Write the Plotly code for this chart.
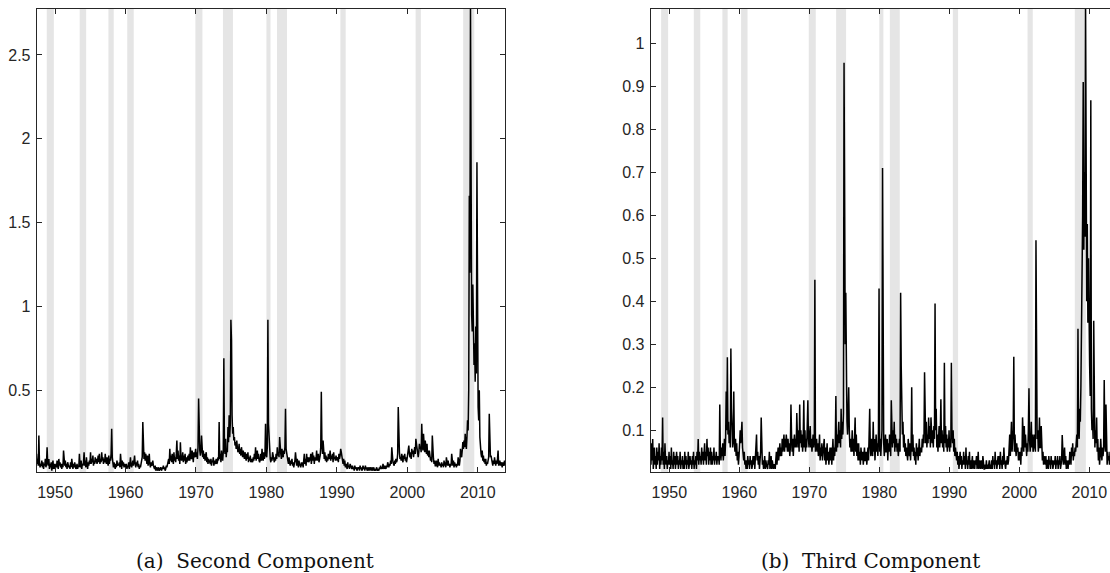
import plotly.graph_objects as go

# ---------------- data (monthly) ----------------
# series start in April 1947
start_year, start_month = 1947, 3
end_year = 2013

second_1940s = [0.08, 0.12, 0.06, 0.09, 0.05, 0.23, 0.07, 0.04, 0.06,
                0.05, 0.08, 0.04, 0.07, 0.03, 0.06, 0.05, 0.09, 0.04, 0.06, 0.16, 0.07,
                0.05, 0.09, 0.03, 0.06, 0.04, 0.07, 0.02, 0.05, 0.08, 0.03, 0.06, 0.04]
second_1950s = [0.03, 0.06, 0.04, 0.08, 0.05, 0.03, 0.09, 0.05, 0.07, 0.04, 0.06, 0.03,
                0.06, 0.04, 0.14, 0.07, 0.05, 0.08, 0.04, 0.06, 0.03, 0.07, 0.05, 0.04,
                0.05, 0.03, 0.07, 0.04, 0.09, 0.05, 0.03, 0.06, 0.04, 0.07, 0.05, 0.03,
                0.04, 0.06, 0.03, 0.05, 0.04, 0.12, 0.06, 0.04, 0.08, 0.03, 0.06, 0.05,
                0.07, 0.13, 0.05, 0.08, 0.04, 0.10, 0.06, 0.03, 0.07, 0.05, 0.08, 0.06,
                0.13, 0.06, 0.09, 0.07, 0.11, 0.05, 0.08, 0.06, 0.10, 0.07, 0.09, 0.06,
                0.08, 0.11, 0.07, 0.12, 0.06, 0.09, 0.07, 0.13, 0.08, 0.10, 0.06, 0.09,
                0.07, 0.12, 0.08, 0.06, 0.10, 0.07, 0.05, 0.11, 0.06, 0.09, 0.08, 0.12,
                0.27, 0.10, 0.06, 0.04, 0.07, 0.05, 0.03, 0.06, 0.04, 0.08, 0.05, 0.06,
                0.05, 0.07, 0.04, 0.12, 0.06, 0.03, 0.08, 0.05, 0.07, 0.04, 0.06, 0.05]
second_1960s = [0.04, 0.06, 0.03, 0.05, 0.04, 0.07, 0.03, 0.06, 0.10, 0.05, 0.04, 0.06,
                0.08, 0.05, 0.07, 0.11, 0.06, 0.04, 0.07, 0.05, 0.08, 0.04, 0.06, 0.03,
                0.05, 0.04, 0.06, 0.08, 0.10, 0.31, 0.16, 0.09, 0.13, 0.08, 0.12, 0.07,
                0.06, 0.11, 0.05, 0.07, 0.12, 0.06, 0.04, 0.07, 0.05, 0.06, 0.08, 0.05,
                0.04, 0.03, 0.05, 0.02, 0.04, 0.03, 0.02, 0.04, 0.03, 0.02, 0.03, 0.04,
                0.03, 0.02, 0.04, 0.03, 0.05, 0.03, 0.04, 0.02, 0.03, 0.05, 0.04, 0.06,
                0.07, 0.09, 0.06, 0.15, 0.08, 0.11, 0.07, 0.12, 0.09, 0.06, 0.13, 0.08,
                0.10, 0.07, 0.12, 0.20, 0.09, 0.14, 0.08, 0.11, 0.06, 0.19, 0.10, 0.08,
                0.09, 0.13, 0.07, 0.11, 0.08, 0.12, 0.06, 0.10, 0.07, 0.09, 0.11, 0.08,
                0.12, 0.08, 0.16, 0.10, 0.09, 0.14, 0.11, 0.07, 0.13, 0.10, 0.12, 0.15]
second_1970s = [0.10, 0.13, 0.09, 0.16, 0.45, 0.20, 0.14, 0.11, 0.13, 0.23, 0.12, 0.10,
                0.14, 0.09, 0.12, 0.08, 0.11, 0.13, 0.07, 0.10, 0.06, 0.09, 0.08, 0.07,
                0.06, 0.09, 0.05, 0.08, 0.07, 0.10, 0.05, 0.08, 0.06, 0.07, 0.09, 0.06,
                0.07, 0.10, 0.08, 0.31, 0.09, 0.12, 0.07, 0.14, 0.10, 0.08, 0.13, 0.69,
                0.16, 0.12, 0.21, 0.10, 0.15, 0.13, 0.28, 0.19, 0.35, 0.22, 0.30, 0.92,
                0.80, 0.35, 0.24, 0.28, 0.20, 0.22, 0.17, 0.19, 0.15, 0.20, 0.16, 0.13,
                0.14, 0.18, 0.12, 0.15, 0.11, 0.16, 0.13, 0.10, 0.14, 0.12, 0.09, 0.13,
                0.10, 0.08, 0.12, 0.09, 0.13, 0.07, 0.10, 0.08, 0.11, 0.07, 0.09, 0.08,
                0.07, 0.10, 0.08, 0.12, 0.09, 0.16, 0.08, 0.11, 0.14, 0.09, 0.12, 0.08,
                0.07, 0.09, 0.12, 0.08, 0.15, 0.10, 0.08, 0.13, 0.09, 0.11, 0.30, 0.12]
second_1980s = [0.10, 0.16, 0.92, 0.30, 0.18, 0.12, 0.09, 0.07, 0.10, 0.08, 0.13, 0.11,
                0.09, 0.07, 0.10, 0.08, 0.12, 0.09, 0.16, 0.11, 0.13, 0.10, 0.22, 0.14,
                0.12, 0.09, 0.15, 0.11, 0.10, 0.14, 0.12, 0.16, 0.39, 0.15, 0.11, 0.09,
                0.08, 0.06, 0.10, 0.07, 0.05, 0.08, 0.06, 0.09, 0.05, 0.07, 0.04, 0.06,
                0.08, 0.13, 0.06, 0.05, 0.09, 0.07, 0.04, 0.08, 0.05, 0.06, 0.04, 0.07,
                0.05, 0.07, 0.04, 0.08, 0.12, 0.06, 0.09, 0.05, 0.12, 0.07, 0.10, 0.08,
                0.07, 0.10, 0.08, 0.12, 0.06, 0.09, 0.13, 0.08, 0.11, 0.06, 0.10, 0.08,
                0.09, 0.14, 0.08, 0.10, 0.12, 0.07, 0.09, 0.11, 0.16, 0.49, 0.18, 0.12,
                0.20, 0.11, 0.09, 0.13, 0.08, 0.11, 0.07, 0.10, 0.08, 0.12, 0.09, 0.10,
                0.14, 0.08, 0.11, 0.09, 0.12, 0.07, 0.13, 0.09, 0.10, 0.08, 0.11, 0.09]
second_1990s = [0.08, 0.10, 0.07, 0.12, 0.09, 0.11, 0.15, 0.13, 0.10, 0.08, 0.06, 0.09,
                0.05, 0.08, 0.04, 0.06, 0.05, 0.03, 0.07, 0.04, 0.05, 0.03, 0.06, 0.04,
                0.04, 0.03, 0.05, 0.03, 0.04, 0.02, 0.05, 0.03, 0.04, 0.03, 0.02, 0.04,
                0.03, 0.04, 0.02, 0.05, 0.03, 0.04, 0.02, 0.03, 0.05, 0.03, 0.04, 0.02,
                0.05, 0.03, 0.04, 0.02, 0.03, 0.04, 0.02, 0.03, 0.04, 0.03, 0.02, 0.04,
                0.03, 0.02, 0.04, 0.03, 0.02, 0.03, 0.02, 0.04, 0.03, 0.02, 0.03, 0.02,
                0.04, 0.03, 0.05, 0.03, 0.04, 0.03, 0.06, 0.04, 0.03, 0.05, 0.04, 0.03,
                0.05, 0.04, 0.07, 0.05, 0.04, 0.06, 0.05, 0.08, 0.06, 0.16, 0.09, 0.07,
                0.06, 0.05, 0.08, 0.06, 0.09, 0.07, 0.08, 0.12, 0.40, 0.18, 0.13, 0.09,
                0.10, 0.08, 0.12, 0.09, 0.07, 0.11, 0.09, 0.12, 0.08, 0.10, 0.07, 0.09]
second_2000s = [0.11, 0.14, 0.17, 0.12, 0.10, 0.13, 0.09, 0.15, 0.12, 0.14, 0.10, 0.13,
                0.16, 0.12, 0.21, 0.18, 0.14, 0.12, 0.10, 0.13, 0.18, 0.15, 0.16, 0.13,
                0.30, 0.19, 0.14, 0.24, 0.17, 0.13, 0.20, 0.16, 0.12, 0.18, 0.11, 0.14,
                0.10, 0.14, 0.12, 0.08, 0.10, 0.07, 0.23, 0.12, 0.09, 0.06, 0.08, 0.05,
                0.05, 0.08, 0.06, 0.04, 0.09, 0.05, 0.07, 0.05, 0.06, 0.04, 0.07, 0.05,
                0.06, 0.04, 0.08, 0.05, 0.07, 0.04, 0.10, 0.06, 0.05, 0.08, 0.05, 0.06,
                0.04, 0.06, 0.05, 0.12, 0.07, 0.05, 0.08, 0.04, 0.07, 0.05, 0.06, 0.04,
                0.06, 0.05, 0.10, 0.07, 0.05, 0.08, 0.15, 0.12, 0.10, 0.14, 0.19, 0.15,
                0.20, 0.16, 0.24, 0.18, 0.15, 0.22, 0.32, 0.26, 0.50, 1.66, 1.20, 2.80,
                1.30, 0.95, 0.85, 1.13, 0.90, 0.65, 0.78, 0.55, 0.88, 0.60, 1.86, 0.70]
second_2010s = [0.40, 0.32, 0.50, 0.22, 0.15, 0.12, 0.10, 0.14, 0.08, 0.11, 0.07, 0.09,
                0.06, 0.09, 0.05, 0.07, 0.06, 0.08, 0.10, 0.36, 0.14, 0.10, 0.11, 0.07,
                0.07, 0.05, 0.08, 0.06, 0.10, 0.07, 0.05, 0.08, 0.06, 0.09, 0.14, 0.05,
                0.06, 0.08, 0.05, 0.07, 0.06, 0.04, 0.07, 0.05, 0.06, 0.08, 0.05, 0.06]

third_1940s = [0.05, 0.02, 0.07, 0.03, 0.08, 0.01, 0.04, 0.06, 0.02,
               0.04, 0.01, 0.06, 0.02, 0.05, 0.03, 0.07, 0.01, 0.04, 0.02, 0.06, 0.03,
               0.13, 0.02, 0.05, 0.01, 0.07, 0.03, 0.02, 0.04, 0.01, 0.03, 0.02, 0.05]
third_1950s = [0.02, 0.04, 0.01, 0.06, 0.02, 0.03, 0.01, 0.05, 0.02, 0.04, 0.01, 0.03,
               0.05, 0.02, 0.04, 0.01, 0.03, 0.02, 0.05, 0.01, 0.03, 0.02, 0.04, 0.01,
               0.03, 0.01, 0.05, 0.02, 0.04, 0.01, 0.03, 0.02, 0.05, 0.01, 0.02, 0.04,
               0.02, 0.03, 0.01, 0.04, 0.02, 0.05, 0.01, 0.03, 0.02, 0.04, 0.01, 0.05,
               0.03, 0.08, 0.02, 0.05, 0.03, 0.04, 0.02, 0.06, 0.03, 0.05, 0.02, 0.04,
               0.07, 0.03, 0.05, 0.02, 0.08, 0.04, 0.06, 0.02, 0.05, 0.03, 0.06, 0.02,
               0.05, 0.02, 0.04, 0.03, 0.06, 0.02, 0.04, 0.03, 0.05, 0.02, 0.04, 0.03,
               0.04, 0.02, 0.16, 0.05, 0.03, 0.06, 0.04, 0.07, 0.03, 0.05, 0.08, 0.04,
               0.08, 0.19, 0.10, 0.27, 0.09, 0.12, 0.07, 0.10, 0.06, 0.29, 0.15, 0.10,
               0.06, 0.08, 0.19, 0.07, 0.05, 0.08, 0.04, 0.07, 0.03, 0.05, 0.02, 0.04]
third_1960s = [0.06, 0.10, 0.07, 0.09, 0.12, 0.06, 0.04, 0.03, 0.05, 0.02, 0.03, 0.01,
               0.03, 0.01, 0.04, 0.02, 0.03, 0.01, 0.04, 0.02, 0.03, 0.01, 0.02, 0.04,
               0.02, 0.04, 0.01, 0.03, 0.05, 0.09, 0.03, 0.05, 0.02, 0.04, 0.01, 0.03,
               0.05, 0.13, 0.04, 0.02, 0.03, 0.01, 0.02, 0.04, 0.01, 0.03, 0.02, 0.01,
               0.01, 0.03, 0.02, 0.05, 0.01, 0.02, 0.04, 0.01, 0.03, 0.02, 0.01, 0.02,
               0.02, 0.01, 0.03, 0.05, 0.02, 0.04, 0.06, 0.03, 0.05, 0.07, 0.04, 0.06,
               0.04, 0.08, 0.05, 0.07, 0.09, 0.05, 0.08, 0.06, 0.09, 0.07, 0.05, 0.08,
               0.05, 0.07, 0.04, 0.06, 0.16, 0.09, 0.05, 0.08, 0.04, 0.07, 0.09, 0.06,
               0.08, 0.06, 0.14, 0.09, 0.06, 0.10, 0.05, 0.16, 0.07, 0.10, 0.06, 0.09,
               0.05, 0.08, 0.17, 0.06, 0.10, 0.05, 0.08, 0.06, 0.11, 0.17, 0.08, 0.06]
third_1970s = [0.09, 0.11, 0.06, 0.08, 0.05, 0.07, 0.09, 0.06, 0.08, 0.45, 0.05, 0.07,
               0.08, 0.05, 0.07, 0.04, 0.06, 0.09, 0.03, 0.06, 0.04, 0.07, 0.03, 0.05,
               0.05, 0.08, 0.03, 0.06, 0.02, 0.04, 0.07, 0.03, 0.05, 0.02, 0.04, 0.06,
               0.03, 0.06, 0.02, 0.05, 0.08, 0.03, 0.06, 0.04, 0.07, 0.18, 0.05, 0.09,
               0.06, 0.09, 0.12, 0.07, 0.10, 0.06, 0.15, 0.08, 0.12, 0.09, 0.14, 0.955,
               0.70, 0.30, 0.42, 0.18, 0.12, 0.09, 0.13, 0.20, 0.10, 0.06, 0.08, 0.05,
               0.06, 0.10, 0.05, 0.08, 0.04, 0.07, 0.13, 0.05, 0.09, 0.04, 0.07, 0.03,
               0.07, 0.03, 0.05, 0.02, 0.06, 0.04, 0.03, 0.05, 0.02, 0.04, 0.06, 0.03,
               0.03, 0.05, 0.02, 0.04, 0.06, 0.03, 0.07, 0.15, 0.06, 0.04, 0.08, 0.05,
               0.04, 0.12, 0.05, 0.08, 0.03, 0.06, 0.09, 0.05, 0.07, 0.04, 0.10, 0.43]
third_1980s = [0.05, 0.08, 0.04, 0.06, 0.10, 0.71, 0.12, 0.07, 0.04, 0.06, 0.09, 0.05,
               0.05, 0.08, 0.03, 0.07, 0.05, 0.09, 0.06, 0.04, 0.17, 0.08, 0.06, 0.10,
               0.07, 0.12, 0.05, 0.09, 0.06, 0.08, 0.05, 0.07, 0.04, 0.06, 0.08, 0.05,
               0.42, 0.25, 0.16, 0.09, 0.12, 0.06, 0.09, 0.05, 0.07, 0.04, 0.06, 0.03,
               0.03, 0.08, 0.05, 0.04, 0.07, 0.03, 0.06, 0.20, 0.05, 0.09, 0.04, 0.06,
               0.03, 0.05, 0.02, 0.07, 0.04, 0.06, 0.03, 0.05, 0.08, 0.04, 0.06, 0.05,
               0.05, 0.08, 0.06, 0.09, 0.07, 0.235, 0.10, 0.07, 0.12, 0.06, 0.09, 0.07,
               0.13, 0.08, 0.11, 0.06, 0.13, 0.09, 0.07, 0.10, 0.06, 0.11, 0.08, 0.395,
               0.10, 0.15, 0.06, 0.09, 0.05, 0.08, 0.11, 0.06, 0.09, 0.172, 0.07, 0.10,
               0.06, 0.09, 0.05, 0.257, 0.07, 0.11, 0.06, 0.09, 0.05, 0.08, 0.06, 0.10]
third_1990s = [0.05, 0.08, 0.06, 0.257, 0.10, 0.07, 0.10, 0.05, 0.08, 0.04, 0.06, 0.03,
               0.03, 0.05, 0.02, 0.04, 0.01, 0.03, 0.05, 0.02, 0.04, 0.01, 0.03, 0.02,
               0.05, 0.02, 0.04, 0.01, 0.06, 0.02, 0.03, 0.01, 0.04, 0.02, 0.05, 0.01,
               0.03, 0.01, 0.02, 0.04, 0.01, 0.03, 0.02, 0.01, 0.03, 0.02, 0.04, 0.01,
               0.02, 0.05, 0.01, 0.03, 0.02, 0.01, 0.03, 0.02, 0.01, 0.04, 0.02, 0.01,
               0.01, 0.02, 0.01, 0.03, 0.01, 0.02, 0.01, 0.02, 0.03, 0.01, 0.02, 0.01,
               0.03, 0.01, 0.04, 0.02, 0.03, 0.01, 0.05, 0.02, 0.03, 0.01, 0.02, 0.04,
               0.02, 0.04, 0.01, 0.05, 0.02, 0.03, 0.01, 0.04, 0.02, 0.06, 0.03, 0.02,
               0.01, 0.03, 0.02, 0.04, 0.02, 0.03, 0.05, 0.09, 0.04, 0.07, 0.12, 0.05,
               0.08, 0.10, 0.271, 0.05, 0.09, 0.06, 0.04, 0.07, 0.05, 0.06, 0.03, 0.05]
third_2000s = [0.03, 0.05, 0.02, 0.06, 0.04, 0.13, 0.07, 0.05, 0.11, 0.06, 0.09, 0.04,
               0.04, 0.07, 0.05, 0.10, 0.198, 0.08, 0.05, 0.07, 0.12, 0.06, 0.09, 0.05,
               0.06, 0.09, 0.07, 0.05, 0.542, 0.13, 0.08, 0.10, 0.05, 0.07, 0.13, 0.06,
               0.06, 0.11, 0.04, 0.03, 0.05, 0.02, 0.04, 0.03, 0.02, 0.04, 0.01, 0.03,
               0.03, 0.01, 0.04, 0.02, 0.03, 0.01, 0.04, 0.02, 0.03, 0.01, 0.02, 0.03,
               0.02, 0.04, 0.01, 0.03, 0.02, 0.04, 0.01, 0.03, 0.02, 0.04, 0.01, 0.02,
               0.03, 0.089, 0.05, 0.02, 0.04, 0.06, 0.02, 0.04, 0.01, 0.03, 0.02, 0.01,
               0.03, 0.02, 0.05, 0.04, 0.02, 0.06, 0.04, 0.07, 0.03, 0.05, 0.04, 0.06,
               0.05, 0.07, 0.09, 0.06, 0.336, 0.10, 0.08, 0.15, 0.12, 0.20, 0.30, 0.45,
               0.60, 0.91, 0.52, 0.70, 0.55, 1.10, 0.65, 0.40, 0.58, 0.35, 0.50, 0.30]
third_2010s = [0.25, 0.18, 0.868, 0.15, 0.10, 0.12, 0.08, 0.355, 0.13, 0.06, 0.10, 0.07,
               0.13, 0.05, 0.08, 0.03, 0.06, 0.02, 0.04, 0.08, 0.05, 0.03, 0.06, 0.04,
               0.06, 0.217, 0.08, 0.05, 0.16, 0.04, 0.02, 0.05, 0.03, 0.04, 0.02, 0.05,
               0.04, 0.02, 0.05, 0.03, 0.02, 0.04, 0.03, 0.05, 0.02, 0.04, 0.03, 0.05]

# NBER recessions (start, end) in decimal years
recession_start = [1948.83, 1953.50, 1957.58, 1960.25, 1969.92, 1973.83,
                   1980.00, 1981.50, 1990.50, 2001.17, 2007.92]
recession_end = [1949.83, 1954.42, 1958.33, 1961.17, 1970.92, 1975.25,
                 1980.58, 1982.92, 1991.25, 2001.92, 2009.50]

xtick_vals = [1950, 1960, 1970, 1980, 1990, 2000, 2010]
left_ytick_vals = [0.5, 1, 1.5, 2, 2.5]
left_ytick_text = ["0.5", "1", "1.5", "2", "2.5"]
right_ytick_vals = [0.1, 0.2, 0.3, 0.4, 0.5, 0.6, 0.7, 0.8, 0.9, 1]
right_ytick_text = ["0.1", "0.2", "0.3", "0.4", "0.5", "0.6", "0.7", "0.8", "0.9", "1"]
captions = ["(a)  Second Component", "(b)  Third Component"]

# ---------------- build ----------------
second = (second_1940s + second_1950s + second_1960s + second_1970s +
          second_1980s + second_1990s + second_2000s + second_2010s)
third = (third_1940s + third_1950s + third_1960s + third_1970s +
         third_1980s + third_1990s + third_2000s + third_2010s)

dates = []
for y in range(start_year, end_year + 1):
    for m in range(12):
        if y == start_year and m < start_month:
            continue
        dates.append(y + (m + 0.5) / 12)

W, H = 1110, 573
INK = "#262626"
TICKFONT = dict(family="Liberation Sans Narrow, Arial Narrow, Liberation Sans, Arial",
                size=16, color=INK)

fig = go.Figure()
fig.add_trace(go.Scatter(x=dates[:len(second)], y=second, mode="lines",
                         line=dict(color="black", width=1.5),
                         xaxis="x", yaxis="y", showlegend=False, hoverinfo="skip"))
fig.add_trace(go.Scatter(x=dates[:len(third)], y=third, mode="lines",
                         line=dict(color="black", width=1.5),
                         xaxis="x2", yaxis="y2", showlegend=False, hoverinfo="skip"))

for xr, yr in (("x", "y domain"), ("x2", "y2 domain")):
    for a, b in zip(recession_start, recession_end):
        fig.add_shape(type="rect", xref=xr, yref=yr, x0=a, x1=b, y0=0, y1=1,
                      fillcolor="#e5e5e5", line=dict(width=0), layer="below")

ydom = [(H - 472) / H, (H - 9) / H]
common_x = dict(tickvals=xtick_vals, ticks="inside", ticklen=5, tickwidth=1,
                tickcolor=INK, showline=True, linecolor=INK, linewidth=1,
                mirror="ticks", showgrid=False, zeroline=False,
                tickfont=TICKFONT, ticklabelstandoff=6)
common_y = dict(ticks="inside", ticklen=5, tickwidth=1, tickcolor=INK,
                showline=True, linecolor=INK, linewidth=1, showgrid=False,
                zeroline=False, tickfont=TICKFONT, ticklabelstandoff=2)

fig.update_layout(
    width=W, height=H, margin=dict(l=0, r=0, t=0, b=0),
    paper_bgcolor="white", plot_bgcolor="white",
    xaxis=dict(domain=[36.7 / W, 505.3 / W], range=[1947.4, 2013.9],
               anchor="y", **common_x),
    yaxis=dict(domain=ydom, range=[0.012, 2.774], tickvals=left_ytick_vals,
               ticktext=left_ytick_text, anchor="x", mirror="ticks", **common_y),
    xaxis2=dict(domain=[650.7 / W, 1.0], range=[1947.34, 2012.95],
                anchor="y2", **common_x),
    yaxis2=dict(domain=ydom, range=[0.003, 1.08], tickvals=right_ytick_vals,
                ticktext=right_ytick_text, anchor="x2", mirror=False, **common_y),
)

for cx, txt in zip([255 / W, 870 / W], captions):
    fig.add_annotation(x=cx, y=(H - 561) / H, xref="paper", yref="paper",
                       text=txt, showarrow=False, xanchor="center", yanchor="middle",
                       font=dict(family="DejaVu Serif, Liberation Serif, serif",
                                 size=20, color="#111111"))

fig.write_html("out.html",
               config={"displayModeBar": False},
               post_script="document.body.style.margin='0px';"
                           "document.body.style.overflow='hidden';")
